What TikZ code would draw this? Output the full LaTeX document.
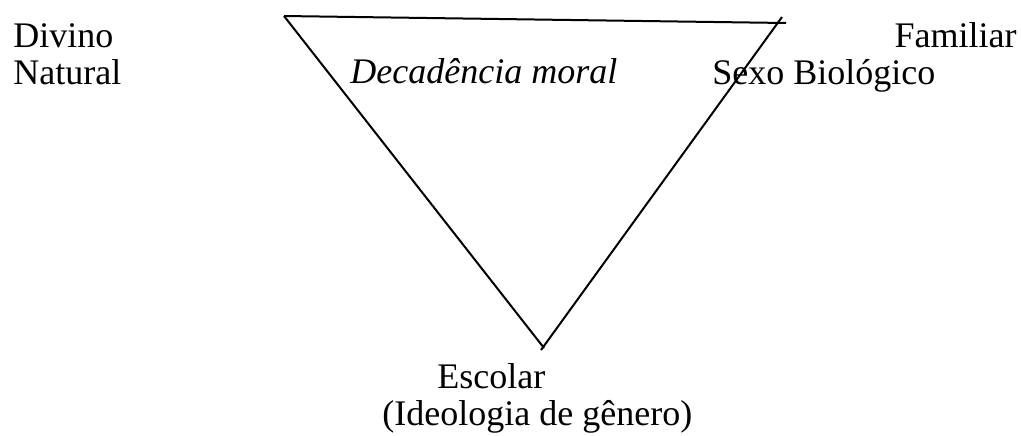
\documentclass[tikz,border=0pt]{standalone}
\usepackage{fontspec}
\setmainfont{Liberation Serif}
\usetikzlibrary{positioning}
\tikzset{
  lbl/.style={font=\fontsize{18}{20}\selectfont,inner sep=0pt,anchor=base west},
  lblR/.style={lbl,anchor=base east},
  edge/.style={line width=1pt,black},
}

\begin{document}
\begin{tikzpicture}[x=0.5pt,y=-0.5pt]
        \useasboundingbox (0,0) rectangle (1021,435);
        % --- ucburchak: uchta alohida chiziq ---
        \coordinate (topL) at (284,16);
        \coordinate (topR) at (786,23);
        \coordinate (rTop) at (782,17);
        \coordinate (botL) at (544,348);
        \coordinate (botR) at (541,350);
        \draw[edge] (topL) -- (topR);
        \draw[edge] (topL) -- (botL);
        \draw[edge] (rTop) -- (botR);
        % labels (chap tomonda)
        \node[lbl] (divino)  at (13,47) {Divino};
        \node[lbl] (natural) at (13,84) {Natural};
        % labels (o'ng tomonda)
        \node[lblR] (familiar) at (1017,47) {Familiar};
        \node[lbl]  (sexo)     at (712,84) {Sexo Biológico};
        % ichida
        \node[lbl] (decad) at (350,83) {\itshape Decadência moral};
        % pastda
        \node[lbl] (escolar) at (437,388) {Escolar};
        \node[lbl] (ideol)   at (382,425) {(Ideologia de gênero)};
      \end{tikzpicture}
\end{document}
